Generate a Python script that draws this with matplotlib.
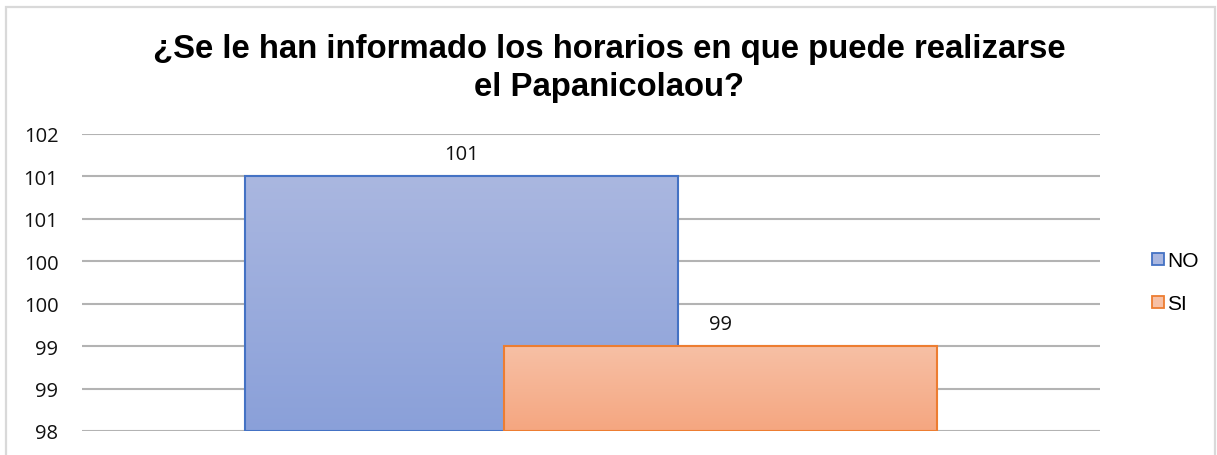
import numpy as np
import matplotlib
matplotlib.use("Agg")
import matplotlib.pyplot as plt
from matplotlib.patches import Rectangle
from matplotlib.colors import LinearSegmentedColormap
from matplotlib.lines import Line2D

title_lines = ["¿Se le han informado los horarios en que puede realizarse",
               "el Papanicolaou?"]
series = ["NO", "SI"]
values = [101, 99]
ytick_values = [98, 98.5, 99, 99.5, 100, 100.5, 101, 101.5]
ytick_labels = ["98", "99", "99", "100", "100", "101", "101", "102"]

W, H = 1217, 456
fig = plt.figure(figsize=(W / 100, H / 100), dpi=100)
fig.patch.set_facecolor("white")

# outer chart border
fig.add_artist(Rectangle((6 / W, -0.01), (1215 - 6) / W, 1 - 8 / H + 0.01,
                         transform=fig.transFigure, fill=False,
                         edgecolor="#d9d9d9", linewidth=1.6))

ax = fig.add_axes([82 / W, 1 - 432 / H, (1100 - 82) / W, (432 - 135) / H])
for s in ax.spines.values():
    s.set_visible(False)
ax.set_yticks(ytick_values)
ax.set_yticklabels(ytick_labels, fontsize=14.5, family="Open Sans", color="#111111")
ax.tick_params(axis="y", length=0, pad=17)
ax.set_xticks([])
ax.grid(axis="y", color="#b3b3b3", linewidth=1.5, zorder=0)
ax.set_axisbelow(True)

width = 0.425
offsets = [-0.1275, 0.1275]
tops = [("#aab7e0", "#8aa0d9"), ("#f7c0a5", "#f5a680")]
edges = ["#4472c4", "#ed7d31"]

for i, (name, v) in enumerate(zip(series, values)):
    b = ax.bar(offsets[i], v - 98, width=width, bottom=98, color="none",
               edgecolor=edges[i], linewidth=1.5, zorder=3 + i * 2)[0]
    cmap = LinearSegmentedColormap.from_list("g%d" % i, [tops[i][1], tops[i][0]])
    grad = np.linspace(0, 1, 256).reshape(-1, 1)
    x0 = offsets[i] - width / 2
    im = ax.imshow(grad, cmap=cmap, aspect="auto", origin="lower",
                   extent=[x0, x0 + width, 98, v], zorder=2 + i * 2)
    im.set_clip_path(b)
    ax.text(offsets[i], v + 0.26, str(v), ha="center", va="center",
            fontsize=14.5, family="Open Sans", color="#111111")

ax.set_xlim(-0.5, 0.5)
ax.set_ylim(98, 101.5)

# legend
handles = [Line2D([], [], marker="s", linestyle="none", markersize=8,
                  markerfacecolor=tops[i][0], markeredgecolor=edges[i],
                  markeredgewidth=1.3) for i in range(2)]
fig.legend(handles, series, loc="center left",
           bbox_to_anchor=(1133 / W, 1 - 283 / H), frameon=False,
           handlelength=0.6, handletextpad=0.15,
           labelspacing=1.15, prop={"family": "Liberation Sans", "size": 15})

for line, base in zip(title_lines, [58, 96]):
    fig.text(609 / W, 1 - base / H, line, ha="center", va="baseline",
             fontsize=23.7, fontweight="bold", family="Liberation Sans",
             color="#000000")

fig.savefig("out.png", dpi=100, facecolor="white")
